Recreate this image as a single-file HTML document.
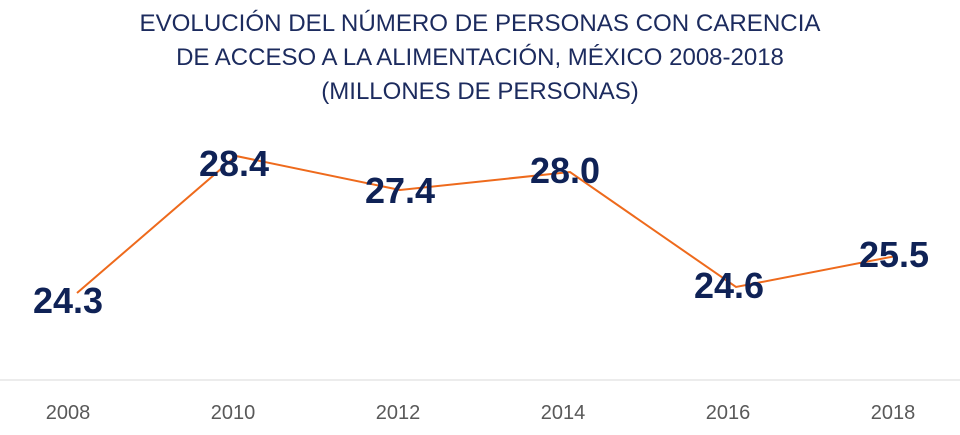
<!DOCTYPE html>
<html><head><meta charset="utf-8"><style>
html,body{margin:0;padding:0;background:#fff;}
svg{display:block;}
</style></head><body>
<svg width="960" height="435" xmlns="http://www.w3.org/2000/svg" font-family="Liberation Sans, sans-serif">
<g fill="#1c2b5e" font-size="24" text-anchor="middle">
<text x="480" y="31" textLength="681" lengthAdjust="spacingAndGlyphs">EVOLUCIÓN DEL NÚMERO DE PERSONAS CON CARENCIA</text>
<text x="480" y="65">DE ACCESO A LA ALIMENTACIÓN, MÉXICO 2008-2018</text>
<text x="480" y="99">(MILLONES DE PERSONAS)</text>
</g>
<polyline points="77,293 236,156 400,190 570,172 736,287 896,256" fill="none" stroke="#ee6a1c" stroke-width="2"/>
<g fill="#0f2256" font-size="36" font-weight="bold" text-anchor="middle">
<text x="68" y="313">24.3</text>
<text x="234" y="176">28.4</text>
<text x="400" y="203">27.4</text>
<text x="565" y="183">28.0</text>
<text x="729" y="298">24.6</text>
<text x="894" y="267">25.5</text>
</g>
<line x1="0" y1="380" x2="960" y2="380" stroke="#d9d9d9" stroke-width="1"/>
<g fill="#595959" font-size="20" text-anchor="middle">
<text x="68" y="419">2008</text>
<text x="233" y="419">2010</text>
<text x="398" y="419">2012</text>
<text x="563" y="419">2014</text>
<text x="728" y="419">2016</text>
<text x="893" y="419">2018</text>
</g>
</svg>
</body></html>
